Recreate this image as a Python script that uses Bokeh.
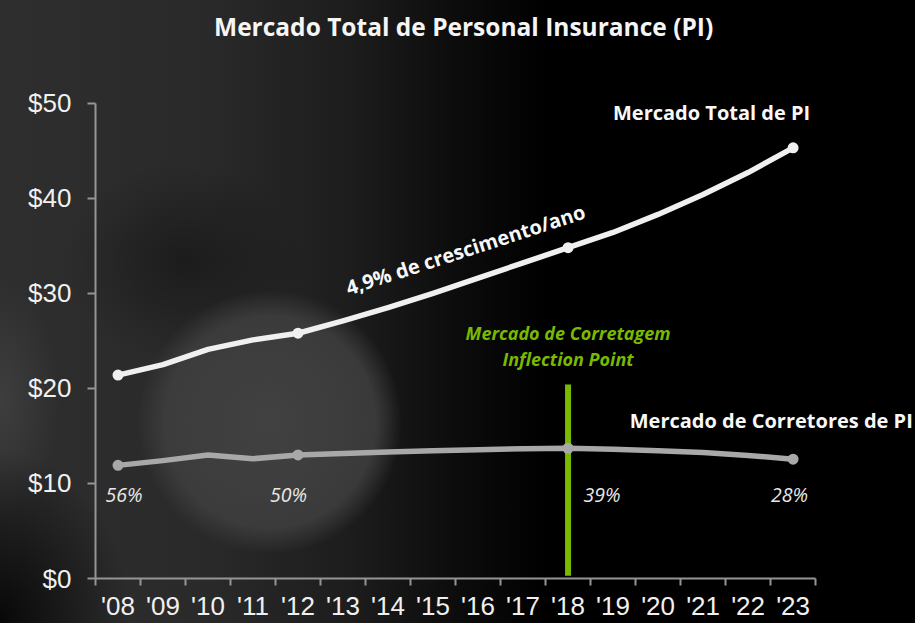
from bokeh.plotting import figure
from bokeh.models import Label, Range1d, FixedTicker, NumeralTickFormatter
from bokeh.embed import file_html
from bokeh.resources import INLINE

# ---------------- data ----------------
years = ["'08", "'09", "'10", "'11", "'12", "'13", "'14", "'15",
         "'16", "'17", "'18", "'19", "'20", "'21", "'22", "'23"]
total_market = [21.4, 22.5, 24.1, 25.1, 25.8, 27.1, 28.5, 30.0,
                31.6, 33.2, 34.8, 36.4, 38.3, 40.4, 42.7, 45.3]
broker_market = [11.9, 12.4, 13.0, 12.6, 13.0, 13.15, 13.3, 13.45,
                 13.55, 13.65, 13.7, 13.6, 13.45, 13.25, 12.95, 12.55]
marker_years = ["'08", "'12", "'18", "'23"]
broker_share = ["56%", "50%", "39%", "28%"]
inflection_year = "'18"
inflection_range = [0.3, 20.4]
y_ticks = [0, 10, 20, 30, 40, 50]

title_text = "Mercado Total de Personal Insurance (PI)"
total_label = "Mercado Total de PI"
broker_label = "Mercado de Corretores de PI"
growth_label = "4,9% de crescimento/ano"
inflection_label = ["Mercado de Corretagem", "Inflection Point"]

xs = list(range(len(years)))
mk_idx = [years.index(y) for y in marker_years]
inf_idx = years.index(inflection_year)

FONT = "Open Sans"
AX_FONT = "Liberation Sans"
GREEN = "#79b900"
WHITE = "#f0f0f0"
GRAY = "#a8a8a8"
AXIS = "#959595"

# frame covers the whole area to the right/top so that the free texts are not clipped;
# axis bounds keep the axis lines on the data extent
p = figure(width=915, height=623, output_backend="svg", toolbar_location=None,
           x_range=Range1d(-0.5, 17.72), y_range=Range1d(0, 60.8),
           min_border_left=95, min_border_right=0, min_border_top=0,
           min_border_bottom=43)

p.background_fill_alpha = 0
p.border_fill_alpha = 0
p.outline_line_color = None
p.grid.visible = False
p.styles = {
    "background-color": "#000",
    "background-image": (
        "radial-gradient(circle 132px at 270px 422px, rgba(68,68,68,0.92) 0%, rgba(62,62,62,0.88) 80%, rgba(50,50,50,0) 100%),"
        "radial-gradient(ellipse 120px 100px at 185px 262px, rgba(16,16,16,0.55) 0%, rgba(16,16,16,0) 100%),"
        "radial-gradient(ellipse 130px 170px at 0px 620px, rgba(6,6,6,0.95) 0%, rgba(6,6,6,0) 100%),"
        "radial-gradient(ellipse 60px 120px at 0px 400px, rgba(66,66,66,0.8) 0%, rgba(66,66,66,0) 100%),"
        "linear-gradient(90deg, #2e2e2e 0%, #2a2a2a 22%, #1d1d1d 38%, #0c0c0c 50%, #000 60%)"
    ),
}

# ---------------- axes ----------------
xa = p.xaxis[0]
xa.bounds = (-0.5, len(years) - 0.5)
xa.ticker = FixedTicker(ticks=xs, minor_ticks=[i - 0.5 for i in range(len(years) + 1)])
xa.major_label_overrides = {i: lab for i, lab in enumerate(years)}
xa.major_tick_line_color = None
xa.minor_tick_line_color = AXIS
xa.minor_tick_line_width = 2
xa.minor_tick_in = 0
xa.minor_tick_out = 7
xa.axis_line_color = AXIS
xa.axis_line_width = 2
xa.major_label_text_font = AX_FONT
xa.major_label_text_font_size = "26px"
xa.major_label_text_color = WHITE
xa.major_label_standoff = 5

ya = p.yaxis[0]
ya.bounds = (0, 50)
ya.ticker = FixedTicker(ticks=y_ticks, minor_ticks=[])
ya.formatter = NumeralTickFormatter(format="$0")
ya.major_tick_line_color = AXIS
ya.major_tick_line_width = 2
ya.major_tick_in = 0
ya.major_tick_out = 8
ya.minor_tick_line_color = None
ya.axis_line_color = AXIS
ya.axis_line_width = 2
ya.major_label_text_font = AX_FONT
ya.major_label_text_font_size = "26px"
ya.major_label_text_color = WHITE
ya.major_label_standoff = 16

# ---------------- marks ----------------
p.segment(x0=[inf_idx], y0=[inflection_range[0]], x1=[inf_idx], y1=[inflection_range[1]],
          line_color=GREEN, line_width=6)

p.line(xs, broker_market, line_color=GRAY, line_width=5.5, line_join="round", line_cap="round")
p.scatter([xs[i] for i in mk_idx], [broker_market[i] for i in mk_idx], size=11,
          fill_color=GRAY, line_color=None)

p.line(xs, total_market, line_color=WHITE, line_width=5.5, line_join="round", line_cap="round")
p.scatter([xs[i] for i in mk_idx], [total_market[i] for i in mk_idx], size=11,
          fill_color=WHITE, line_color=None)

# ---------------- texts ----------------
p.add_layout(Label(x=7.68, y=58.05, text=title_text, text_font=FONT, text_font_style="bold",
                   text_font_size="24.5px", text_color="#f5f5f5", text_align="center",
                   text_baseline="middle"))
p.add_layout(Label(x=15.38, y=49.06, text=total_label, text_font=FONT, text_font_style="bold",
                   text_font_size="20px", text_color="#f8f8f8", text_align="right",
                   text_baseline="middle"))
p.add_layout(Label(x=17.66, y=16.67, text=broker_label, text_font=FONT, text_font_style="bold",
                   text_font_size="20px", text_color="#f8f8f8", text_align="right",
                   text_baseline="middle"))
p.add_layout(Label(x=inf_idx, y=25.8, text=inflection_label[0], text_font=FONT,
                   text_font_style="bold italic", text_font_size="18px", text_color=GREEN,
                   text_align="center", text_baseline="middle"))
p.add_layout(Label(x=inf_idx, y=23.07, text=inflection_label[1], text_font=FONT,
                   text_font_style="bold italic", text_font_size="18px", text_color=GREEN,
                   text_align="center", text_baseline="middle"))
p.add_layout(Label(x=7.72, y=34.6, text=growth_label, text_font=FONT, text_font_style="bold",
                   text_font_size="20px", text_color="#f8f8f8", text_align="center",
                   text_baseline="middle", angle=18, angle_units="deg"))

share_offsets = [6, -9.5, 34, -3.5]
for yr, share, dx in zip(marker_years, broker_share, share_offsets):
    p.add_layout(Label(x=years.index(yr), y=8.86, x_offset=dx, text=share, text_font=FONT,
                       text_font_style="italic", text_font_size="19.5px", text_color="#e8e8e8",
                       text_align="center", text_baseline="middle"))

open("out.html", "w").write(file_html(p, INLINE))
